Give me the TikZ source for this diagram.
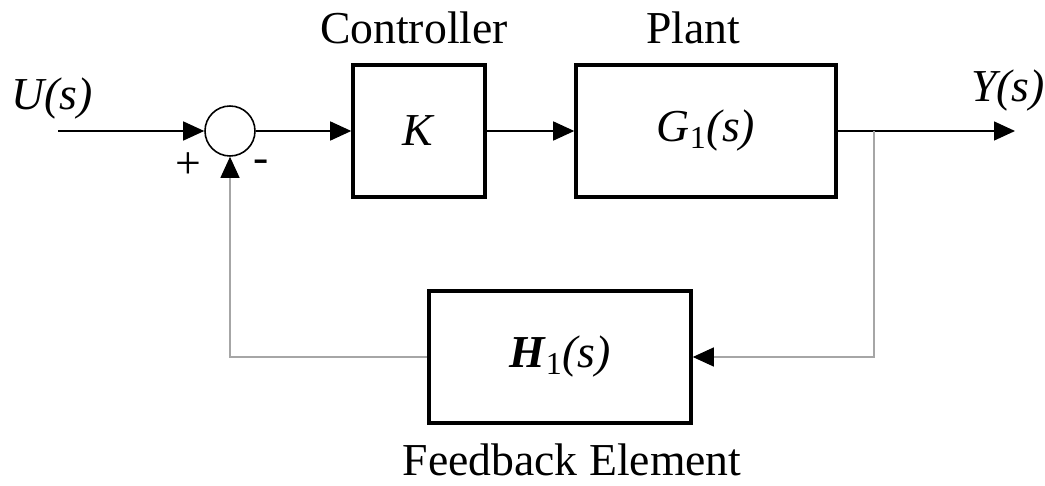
\documentclass[tikz,border=0pt]{standalone}
\usepackage{fontspec}
\setmainfont{Liberation Serif}
\usetikzlibrary{arrows.meta}
\tikzset{
  block/.style={draw, line width=2pt, minimum height=2.64cm, inner sep=0pt},
  sig/.style={line width=0.8pt, -{Triangle[length=4.2mm,width=3.8mm]}},
  fbline/.style={draw=black!35, line width=0.6pt},
  fbtip/.style={-{Triangle[length=4.2mm,width=3.8mm,color=black]}},
  lab/.style={anchor=base, inner sep=0pt}
}
\begin{document}
\begin{tikzpicture}[x=0.2mm,y=-0.2mm,font=\fontsize{26}{31}\selectfont]
\useasboundingbox (0,0) rectangle (1045,486);
% blocks
\node[draw, circle, line width=0.9pt, minimum size=1cm, inner sep=0pt] (sum) at (230,131) {};
\node[block, minimum width=2.64cm] (ctrl) at (419,131) {\textit{K}};
\node[block, minimum width=5.2cm] (plant) at (706,131) {\textit{G}\textsubscript{1}\textit{(s)}};
\node[block, minimum width=5.24cm] (fb) at (560,357) {\textbf{\textit{H}}\textsubscript{1}\textit{(s)}};
\coordinate (in) at (58,131);
\coordinate (br) at (874,131);
\coordinate (out) at (1015,131);
% labels
\node[lab] (ulab) at (52,110) {\textit{U(s)}};
\node[lab] (ylab) at (1008,102) {\textit{Y(s)}};
\node[lab] (clab) at (414,44) {Controller};
\node[lab] (plab) at (693,44) {Plant};
\node[lab] (flab) at (572,475) {Feedback Element};
\node (plus) at (188,166) {+};
\node (minus) at (261,166) {-};
% signals
\draw[sig] (in) -- (sum.west);
\draw[sig] (sum.east) -- (ctrl.west);
\draw[sig] (ctrl.east) -- (plant.west);
\draw[sig] (plant.east) -- (out);
\draw[fbline, fbtip] (br) |- (fb.east);
\draw[fbline, fbtip] (fb.west) -| (sum.south);
\end{tikzpicture}
\end{document}
